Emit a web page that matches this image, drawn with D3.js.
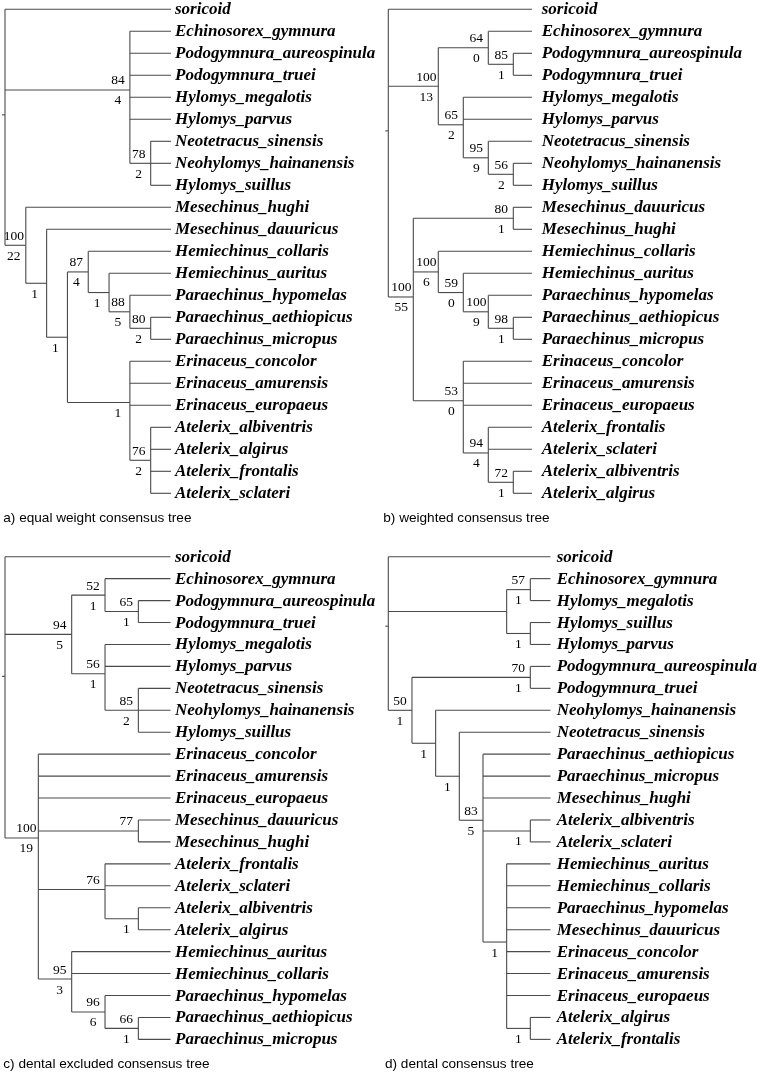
<!DOCTYPE html>
<html><head><meta charset="utf-8">
<script src="https://cdn.jsdelivr.net/npm/d3@7"></script>
<style>body{margin:0;background:#fff} svg{will-change:transform}</style>
</head><body><svg id="chart" width="765" height="1082"></svg>
<script>
// Trees in Newick form; internal labels are "bootstrap/bremer"
const treeA = "(soricoid,(Echinosorex_gymnura,Podogymnura_aureospinula,Podogymnura_truei,Hylomys_megalotis,Hylomys_parvus,(Neotetracus_sinensis,Neohylomys_hainanensis,Hylomys_suillus)78/2)84/4,(Mesechinus_hughi,(Mesechinus_dauuricus,((Hemiechinus_collaris,(Hemiechinus_auritus,(Paraechinus_hypomelas,(Paraechinus_aethiopicus,Paraechinus_micropus)80/2)88/5)/1)87/4,(Erinaceus_concolor,Erinaceus_amurensis,Erinaceus_europaeus,(Atelerix_albiventris,Atelerix_algirus,Atelerix_frontalis,Atelerix_sclateri)76/2)/1)/1)/1)100/22)";
const treeB = "(soricoid,((Echinosorex_gymnura,(Podogymnura_aureospinula,Podogymnura_truei)85/1)64/0,(Hylomys_megalotis,Hylomys_parvus,(Neotetracus_sinensis,(Neohylomys_hainanensis,Hylomys_suillus)56/2)95/9)65/2)100/13,((Mesechinus_dauuricus,Mesechinus_hughi)80/1,(Hemiechinus_collaris,(Hemiechinus_auritus,(Paraechinus_hypomelas,(Paraechinus_aethiopicus,Paraechinus_micropus)98/1)100/9)59/0)100/6,(Erinaceus_concolor,Erinaceus_amurensis,Erinaceus_europaeus,(Atelerix_frontalis,Atelerix_sclateri,(Atelerix_albiventris,Atelerix_algirus)72/1)94/4)53/0)100/55)";
const treeC = "(soricoid,((Echinosorex_gymnura,(Podogymnura_aureospinula,Podogymnura_truei)65/1)52/1,(Hylomys_megalotis,Hylomys_parvus,(Neotetracus_sinensis,Neohylomys_hainanensis,Hylomys_suillus)85/2)56/1)94/5,(Erinaceus_concolor,Erinaceus_amurensis,Erinaceus_europaeus,(Mesechinus_dauuricus,Mesechinus_hughi)77/,(Atelerix_frontalis,Atelerix_sclateri,(Atelerix_albiventris,Atelerix_algirus)/1)76/,(Hemiechinus_auritus,Hemiechinus_collaris,(Paraechinus_hypomelas,(Paraechinus_aethiopicus,Paraechinus_micropus)66/1)96/6)95/3)100/19)";
const treeD = "(soricoid,((Echinosorex_gymnura,Hylomys_megalotis)57/1,(Hylomys_suillus,Hylomys_parvus)/1),((Podogymnura_aureospinula,Podogymnura_truei)70/1,(Neohylomys_hainanensis,(Neotetracus_sinensis,(Paraechinus_aethiopicus,Paraechinus_micropus,Mesechinus_hughi,(Atelerix_albiventris,Atelerix_sclateri)/1,(Hemiechinus_auritus,Hemiechinus_collaris,Paraechinus_hypomelas,Mesechinus_dauuricus,Erinaceus_concolor,Erinaceus_amurensis,Erinaceus_europaeus,(Atelerix_algirus,Atelerix_frontalis)/1)/1)83/5)/1)/1)50/1)";
const captions = ["a) equal weight consensus tree", "b) weighted consensus tree", "c) dental excluded consensus tree", "d) dental consensus tree"];

function parseNewick(s) {
  let i = 0;
  function node() {
    const n = {};
    if (s[i] === '(') {
      i++; n.children = [];
      for (;;) {
        n.children.push(node());
        if (s[i] === ',') { i++; continue; }
        if (s[i] === ')') { i++; break; }
      }
    }
    let lab = '';
    while (i < s.length && !',();'.includes(s[i])) lab += s[i++];
    if (n.children) { const p = lab.split('/'); n.boot = p[0] || ''; n.bremer = p[1] || ''; }
    else n.name = lab;
    return n;
  }
  return node();
}

// panel layout (positions only)
const panels = [
  {tree: treeA, rootX: 5, leafX: 171.5, lineEnd: 171, labelX: 175, y0: 9.3, dy: 22, capX: 3.3, capY: 521.5},
  {tree: treeB, rootX: 388.3, leafX: 538.3, lineEnd: 532, labelX: 541.7, y0: 9.3, dy: 22, capX: 383.3, capY: 521.5},
  {tree: treeC, rootX: 5, leafX: 171.7, lineEnd: 170.5, labelX: 175, y0: 556.7, dy: 21.94, capX: 3.3, capY: 1068},
  {tree: treeD, rootX: 388.3, leafX: 554, lineEnd: 550.5, labelX: 556.7, y0: 556.7, dy: 21.94, capX: 385, capY: 1068}
];

const svg = d3.select('#chart');
const LINE = '#4a4a4a';

panels.forEach((p, pi) => {
  const root = d3.hierarchy(parseNewick(p.tree));
  const n = root.leaves().length;
  d3.cluster().separation(() => 1).size([n, 1])(root);
  const yS = d3.scaleLinear().domain([0.5, n - 0.5]).range([p.y0, p.y0 + p.dy * (n - 1)]);
  const xS = d3.scaleLinear().domain([0, 1]).range([p.rootX, p.leafX]);
  const g = svg.append('g');
  const X = d => d.children ? xS(d.y) : p.lineEnd;
  const Y = d => yS(d.x);

  // root stub
  g.append('line').attr('x1', xS(0) - 3).attr('x2', xS(0)).attr('y1', Y(root)).attr('y2', Y(root))
    .attr('stroke', LINE).attr('stroke-width', 1.1);

  // horizontal branches
  g.selectAll('line.h').data(root.descendants().filter(d => d.parent)).join('line')
    .attr('class', 'h')
    .attr('x1', d => xS(d.parent.y)).attr('x2', X)
    .attr('y1', Y).attr('y2', Y)
    .attr('stroke', LINE).attr('stroke-width', 1.1);

  // vertical connectors
  g.selectAll('line.v').data(root.descendants().filter(d => d.children)).join('line')
    .attr('class', 'v')
    .attr('x1', d => xS(d.y)).attr('x2', d => xS(d.y))
    .attr('y1', d => Y(d.children[0])).attr('y2', d => Y(d.children[d.children.length - 1]))
    .attr('stroke', LINE).attr('stroke-width', 1.1);

  // leaf labels
  g.selectAll('text.leaf').data(root.leaves()).join('text')
    .attr('class', 'leaf')
    .attr('x', p.labelX).attr('y', d => Y(d) + 5)
    .attr('font-family', '"Liberation Serif", "Times New Roman", serif')
    .attr('font-weight', 'bold').attr('font-style', 'italic')
    .attr('font-size', 17).attr('fill', '#000')
    .text(d => d.data.name);

  const inner = root.descendants().filter(d => d.children && d.parent);
  g.selectAll('text.boot').data(inner.filter(d => d.data.boot)).join('text')
    .attr('x', d => xS(d.y) - 12).attr('y', d => Y(d) - 5.5)
    .attr('text-anchor', 'middle')
    .attr('font-family', '"Liberation Serif", "Times New Roman", serif')
    .attr('font-size', 13.5).attr('fill', '#000')
    .text(d => d.data.boot);
  g.selectAll('text.brem').data(inner.filter(d => d.data.bremer)).join('text')
    .attr('x', d => xS(d.y) - 12).attr('y', d => Y(d) + 14.5)
    .attr('text-anchor', 'middle')
    .attr('font-family', '"Liberation Serif", "Times New Roman", serif')
    .attr('font-size', 13.5).attr('fill', '#000')
    .text(d => d.data.bremer);

  g.append('text').attr('x', p.capX).attr('y', p.capY)
    .attr('font-family', '"Liberation Sans", Arial, sans-serif')
    .attr('font-size', 13.6).attr('fill', '#000')
    .text(captions[pi]);
});
</script>
</body></html>
